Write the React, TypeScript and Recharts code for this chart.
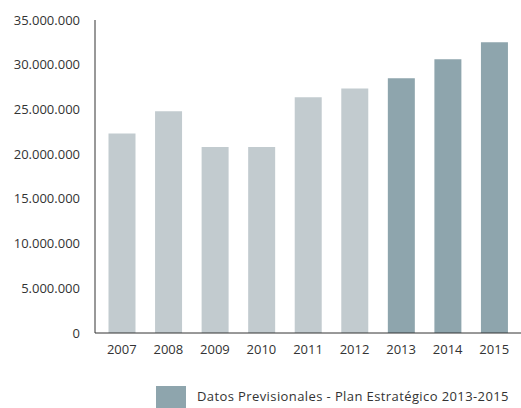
import React from "react";
import { BarChart, Bar, XAxis, YAxis, Cell, Legend } from "recharts";

const years = ["2007", "2008", "2009", "2010", "2011", "2012", "2013", "2014", "2015"];
const values = [22300000, 24800000, 20800000, 20800000, 26350000, 27350000, 28500000, 30600000, 32500000];
const provisional = [false, false, false, false, false, false, true, true, true];
const yTicks = [0, 5000000, 10000000, 15000000, 20000000, 25000000, 30000000, 35000000];
const legendLabel = "Datos Previsionales - Plan Estratégico 2013-2015";

const LIGHT = "#c2cbcf";
const DARK = "#8ea5ad";
const FONT = "'Open Sans', sans-serif";

const data = years.map((y, i) => ({ year: y, value: values[i], prov: provisional[i] }));

const fmtDots = (v: number) => (v === 0 ? "0" : String(v).replace(/\B(?=(\d{3})+(?!\d))/g, "."));

const LegendContent = () => (
  <div style={{ display: "flex", alignItems: "flex-start", fontFamily: FONT, fontSize: 13, color: "#333" }}>
    <div style={{ width: 30, height: 22, background: DARK }} />
    <span style={{ marginLeft: 11, marginTop: 2, whiteSpace: "nowrap", letterSpacing: 0.4, lineHeight: "17px" }}>
      {legendLabel}
    </span>
  </div>
);

export default function App() {
  return (
    <div style={{ position: "absolute", left: 0, top: 0 }}>
      <BarChart
        width={521}
        height={408}
        data={data}
        margin={{ top: 20, right: 0, bottom: 0, left: 0 }}
      >
        <YAxis
          width={95}
          domain={[0, 35000000]}
          ticks={yTicks}
          tickFormatter={fmtDots}
          tickLine={false}
          tickSize={0}
          tickMargin={15}
          axisLine={{ stroke: "#333", strokeWidth: 1 }}
          tick={{ fill: "#333", fontSize: 13, fontFamily: FONT }}
          interval={0}
        />
        <XAxis
          dataKey="year"
          height={75}
          padding={{ left: 3.5, right: 3.5 }}
          tickLine={false}
          tickSize={0}
          tickMargin={12}
          axisLine={{ stroke: "#333", strokeWidth: 1 }}
          tick={{ fill: "#333", fontSize: 13, fontFamily: FONT }}
          interval={0}
        />
        <Legend
          layout="vertical"
          align="center"
          verticalAlign="middle"
          content={<LegendContent />}
          wrapperStyle={{ top: 386, left: 156, width: "auto" }}
        />
        <Bar dataKey="value" barSize={27} isAnimationActive={false}>
          {data.map((d, i) => (
            <Cell key={i} fill={d.prov ? DARK : LIGHT} />
          ))}
        </Bar>
      </BarChart>
    </div>
  );
}
